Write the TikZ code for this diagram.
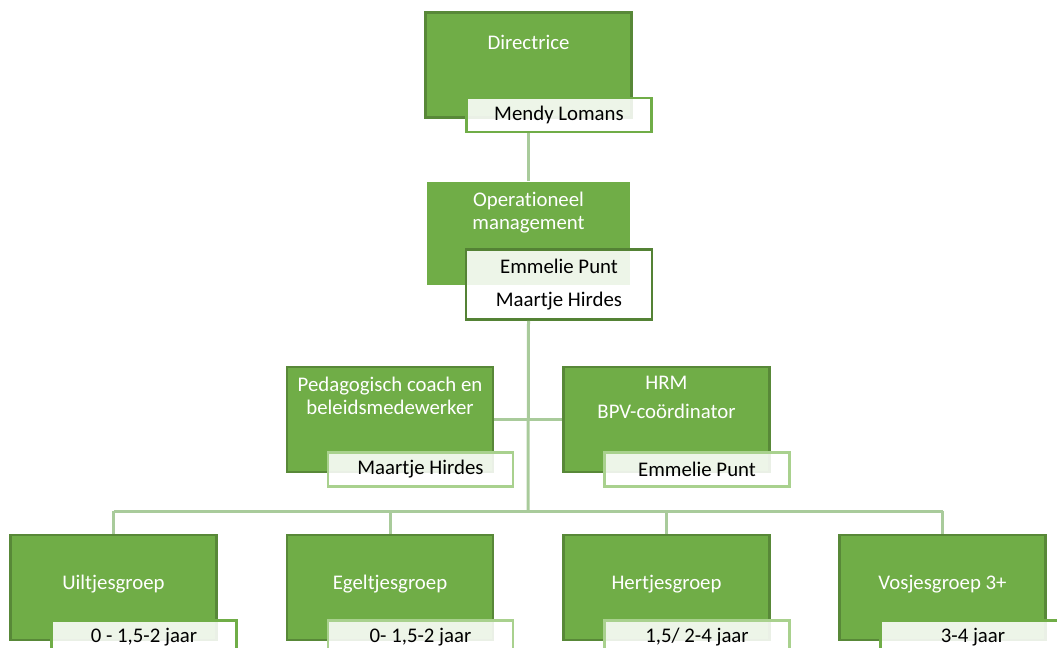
\documentclass[tikz,border=0pt]{standalone}
\usepackage{fontspec}
\setmainfont[Ligatures=NoCommon]{Carlito}
\usetikzlibrary{positioning}

\newlength\px
\setlength\px{0.025cm}

\definecolor{groen}{HTML}{70AD47}
\definecolor{donkergroen}{HTML}{548235}
\definecolor{lichtgroen}{HTML}{A9D18E}
\definecolor{lijngroen}{HTML}{A9CB9B}

\tikzset{
	functie/.style={draw=donkergroen!85!groen, line width=2.5\px, fill=groen, minimum width=206\px, minimum height=105\px, inner sep=0},
	titel/.style={text=white, align=center, inner sep=0, anchor=base, font=\fontsize{14.8}{16.5}\selectfont},
	naambox/.style={draw=groen, line width=2.5\px, fill=white, fill opacity=0.88, text opacity=1, align=center, minimum width=185\px, minimum height=34\px, inner sep=0, anchor=north east, font=\fontsize{14.8}{17}\selectfont},
	lijn/.style={draw=lijngroen, line width=3\px},
}

\begin{document}
\begin{tikzpicture}[x=1\px, y=-1\px]
	\useasboundingbox (0,0) rectangle (1057,647);
	\clip (0,0) rectangle (1057,647);

	\begin{scope} % directie
		\node[functie] (dir) at (528.5,65) {};
		\node[titel] at ([yshift=-38\px]dir.north) {Directrice};
		\node[naambox] (dirnaam) at ([xshift=20\px,yshift=22\px]dir.south east) {Mendy Lomans};

		% base = baseline of the last line
		\node[functie, draw=none, minimum width=203\px, minimum height=103\px] (ops) at (528.5,233.5) {};
		\node[titel] at ([yshift=-49\px]ops.north) {Operationeel\\management};
		\node[naambox, draw=donkergroen, minimum width=186\px, minimum height=70\px] (opsnaam) at ([xshift=22\px,yshift=38\px]ops.south east) {Emmelie Punt\\[7pt]Maartje Hirdes};
	\end{scope}

	\begin{scope} % staf
		\node[functie] (ped) at (390,419.5) {};
		\node[titel] at ([yshift=-49\px]ped.north) {Pedagogisch coach en\\beleidsmedewerker};
		\node[naambox, draw=lichtgroen] (pednaam) at ([xshift=20\px,yshift=22\px]ped.south east) {Maartje Hirdes};

		\node[functie] (hrm) at (666.5,419.5) {};
		\node[titel] at ([yshift=-53\px]hrm.north) {HRM\\[4pt]BPV-coördinator};
		\node[naambox, draw=lichtgroen] (hrmnaam) at ([xshift=20\px,yshift=22\px]hrm.south east) {Emmelie Punt};
	\end{scope}

	\coordinate (bus) at (528,511);
	\draw[lijn] (dirnaam.south -| dir.south) -- (ops.north);
	\draw[lijn] (opsnaam.south -| ops.south) -- (bus);
	\draw[lijn] (ped.east) -- (hrm.west);

	% groepen
	\foreach \x/\naam/\groep/\leeftijd/\rand in {113.5/uil/Uiltjesgroep/{0 - 1,5-2 jaar}/groen, 390/egel/Egeltjesgroep/{0- 1,5-2 jaar}/lichtgroen, 666.5/hert/Hertjesgroep/{1,5/ 2-4 jaar}/lichtgroen, 942.5/vos/Vosjesgroep 3+/{3-4 jaar}/groen}
		{
			\node[functie] (\naam) at (\x,587.5) {};
			\node[titel] at ([yshift=-56\px]\naam.north) {\groep};
			\node[naambox, draw=\rand] (\naam leeftijd) at ([xshift=20\px,yshift=22\px]\naam.south east) {\leeftijd};
			\draw[lijn] (\naam.north |- bus) -- (\naam.north);
		}
	\draw[lijn] (uil.north |- bus) -- (vos.north |- bus);
\end{tikzpicture}
\end{document}
